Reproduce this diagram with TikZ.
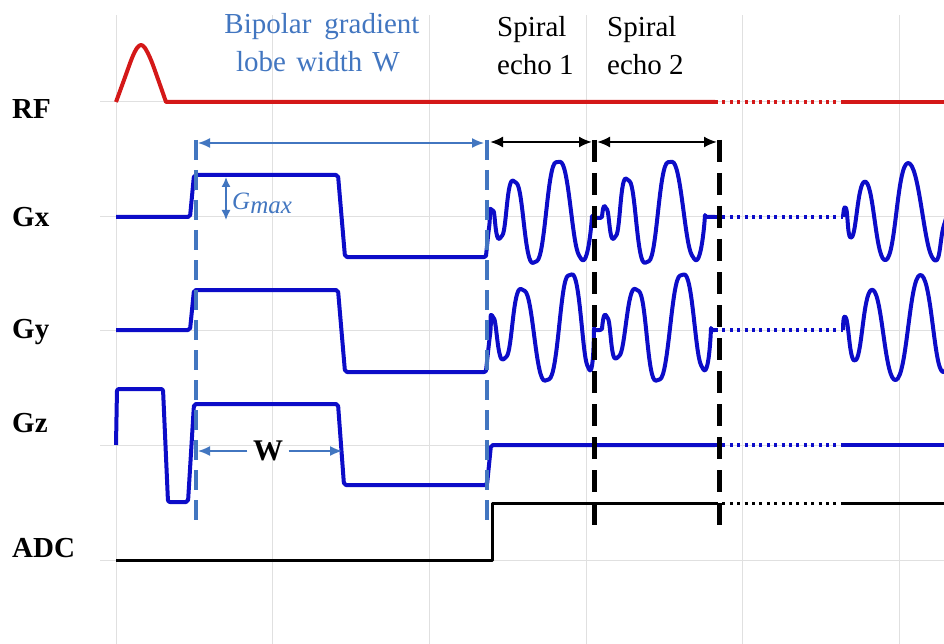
\documentclass[tikz,border=0pt]{standalone}
\usepackage{fontspec}
\setmainfont{Liberation Serif}
\usetikzlibrary{arrows.meta}
\definecolor{wblue}{RGB}{12,12,200}
\definecolor{rfred}{RGB}{212,24,24}
\definecolor{sblue}{RGB}{66,118,192}
\definecolor{gridc}{RGB}{224,224,224}
\begin{document}
\begin{tikzpicture}[x=1pt,y=-1pt,
  wave/.style={line width=4pt,wblue,line join=round},
  rfwave/.style={line width=4pt,rfred,line join=round},
  adcwave/.style={line width=3pt,black,line join=round},
  dotl/.style={dash pattern=on 3pt off 4.4pt},
  gridl/.style={line width=1pt,gridc},
  lab/.style={font=\fontsize{29}{34}\bfseries,anchor=base west,inner sep=0pt},
  txt/.style={font=\fontsize{29}{38}\selectfont,anchor=base west,inner sep=0pt},
  bdash/.style={line width=4pt,sblue,dash pattern=on 20pt off 10pt},
  kdash/.style={line width=5pt,black,dash pattern=on 22pt off 11pt},
  barrow/.style={line width=1.5pt,sblue,{Latex[length=12pt,width=10pt]}-{Latex[length=12pt,width=10pt]}},
  barrowone/.style={line width=1.5pt,sblue,-{Latex[length=12pt,width=10pt]}},
  garrow/.style={line width=1.5pt,sblue,{Latex[length=10pt,width=9pt]}-{Latex[length=10pt,width=9pt]}},
  karrow/.style={line width=2pt,black,{Latex[length=13pt,width=11pt]}-{Latex[length=13pt,width=11pt]}},
  sm/.style={smooth,tension=0.85}
]
\useasboundingbox (0,0) rectangle (944,644);
\clip (0,0) rectangle (944,644);
% grid
\foreach \gx in {116,272,429,586,742,899} \draw[gridl] (\gx,15) -- (\gx,644);
\foreach \gy in {102,217,330,445,560} \draw[gridl] (100,\gy) -- (944,\gy);

% RF
\draw[rfwave] plot[smooth,tension=0.5] coordinates {(116,102) (124,80) (132,58) (137,48) (141,45) (145,48) (151,60) (159,82) (166,102)} -- (715,102);
\draw[rfwave,dotl] (715,102) -- (843,102);
\draw[rfwave] (843,102) -- (944,102);

% Gx
\draw[wave,rounded corners=2pt] (116,217) -- (190,217) -- (194,175) -- (338,175) -- (345,257) -- (486,257)
  -- plot[sm] coordinates {(486,257) (489,228) (492,210) (501,237) (515,182) (535,262) (558,162) (580,257) (592,218)}
  -- (602,218)
  -- plot[sm] coordinates {(602,218) (606,208) (615,237) (628,180) (647,262) (670,162) (693,257) (705,217)}
  -- (715,217);
\draw[wave,dotl] (715,217) -- (843,217);
\draw[wave] plot[sm] coordinates {(843,217) (846,208) (852,237) (866,182) (886,260) (908,163) (932,257) (944,225) (952,195)};

% Gy
\draw[wave,rounded corners=2pt] (116,330) -- (190,330) -- (194,290) -- (338,290) -- (345,372) -- (486,372)
  -- plot[sm] coordinates {(486,372) (490,335) (493,317) (505,358) (523,290) (547,380) (570,275) (588,367) (594,330)}
  -- (602,330)
  -- plot[sm] coordinates {(602,330) (607,317) (618,357) (637,290) (658,380) (682,275) (702,367) (711,330)}
  -- (715,330);
\draw[wave,dotl] (715,330) -- (843,330);
\draw[wave] plot[sm] coordinates {(843,330) (846,318) (856,360) (873,290) (896,380) (920,275) (941,370) (952,330)};

% Gz
\draw[wave,rounded corners=2pt] (116,445) -- (117,389) -- (163,389) -- (168,502) -- (188,502) -- (194,404) -- (338,404) -- (344,485) -- (487,485) -- (491,445) -- (715,445);
\draw[wave,dotl] (715,445) -- (843,445);
\draw[wave] (843,445) -- (944,445);

% ADC
\draw[adcwave] (116,560) -- (492,560) -- (492,503) -- (715,503);
\draw[adcwave,dotl] (715,503) -- (843,503);
\draw[adcwave] (843,503) -- (944,503);

% dashed markers
\draw[bdash] (196,140) -- (196,520);
\draw[bdash] (487,140) -- (487,520);
\draw[kdash] (594,140) -- (594,526);
\draw[kdash] (719,140) -- (719,526);

% arrows
\coordinate (bwl) at (198,143);
\coordinate (bwr) at (484,143);
\draw[barrow] (bwl) -- (bwr);
\coordinate (e1l) at (490,142);
\coordinate (e1r) at (592,142);
\coordinate (e2l) at (597,142);
\coordinate (e2r) at (717,142);
\draw[karrow] (e1l) -- (e1r);
\draw[karrow] (e2l) -- (e2r);
\coordinate (gtop) at (226,177);
\coordinate (gbot) at (226,220);
\draw[garrow] (gtop) -- (gbot);

% W
\node[font=\fontsize{30}{30}\bfseries,inner sep=0pt,minimum width=41pt] (W) at (268,451) {W};
\coordinate (wl) at (198,451);
\coordinate (wr) at (342,451);
\draw[barrowone] (W.west) -- (wl);
\draw[barrowone] (W.east) -- (wr);

% G_max
\node[font=\fontsize{25}{25}\selectfont,text=sblue,anchor=base west,inner sep=0pt] (gmax) at (232,210) {\textit{G}\raisebox{-4pt}{\textit{max}}};

% labels
\node[lab] (rf) at (12,119) {RF};
\node[lab] (gx) at (12,227) {Gx};
\node[lab] (gy) at (12,338) {Gy};
\node[lab] (gz) at (12,432) {Gz};
\node[lab] (adc) at (12,557) {ADC};

% titles
\node[txt,anchor=base,text=sblue] (bip1) at (322,34) {Bipolar\hspace{0.45em}gradient};
\node[txt,anchor=base,text=sblue] (bip2) at (318,72) {lobe\hspace{0.35em}width\hspace{0.35em}W};
\node[txt] (s1a) at (497,37) {Spiral};
\node[txt] (s1b) at (497,75) {echo 1};
\node[txt] (s2a) at (607,37) {Spiral};
\node[txt] (s2b) at (607,75) {echo 2};
\end{tikzpicture}
\end{document}
